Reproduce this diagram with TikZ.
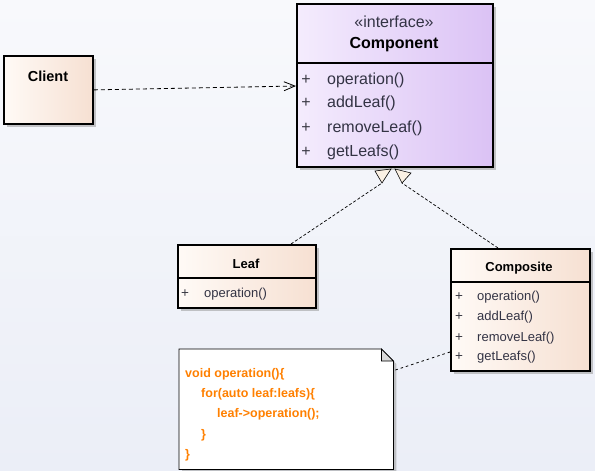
\documentclass[tikz,border=0pt]{standalone}
\usepackage{fontspec}
\setmainfont{Liberation Sans}
\usetikzlibrary{arrows.meta,shadows,calc}
\definecolor{bgtop}{HTML}{F8F9FC}
\definecolor{bgbot}{HTML}{EBEEF7}
\definecolor{peachL}{HTML}{FFFAF6}
\definecolor{peachR}{HTML}{F6E0D2}
\definecolor{lavL}{HTML}{F4ECFD}
\definecolor{lavR}{HTML}{DBC2F5}
\definecolor{methtxt}{HTML}{333344}
\definecolor{plustxt}{HTML}{3A3A44}
\definecolor{codeor}{HTML}{FF8000}
\definecolor{trifill}{HTML}{FBF1E4}
\begin{document}
\begin{tikzpicture}[x=1pt,y=-1pt,
  classbox/.style={draw=black, line width=1.8pt, anchor=north west, inner sep=0pt,
    drop shadow={shadow xshift=3pt, shadow yshift=-3pt, fill=black!40, opacity=.55}},
  peach/.style={left color=peachL, right color=peachR},
  lav/.style={left color=lavL, right color=lavR},
  divider/.style={line width=1.8pt},
  bigtitle/.style={font=\bfseries\fontsize{16}{18}\selectfont, inner sep=0pt},
  bigtext/.style={font=\fontsize{16}{18}\selectfont, inner sep=0pt, text=methtxt},
  bigmeth/.style={font=\fontsize{16}{18}\selectfont, inner sep=0pt, anchor=west, text=methtxt, text height=11.5pt, text depth=3.5pt},
  bigplus/.style={font=\fontsize{16}{18}\selectfont, inner sep=0pt, text=plustxt},
  title/.style={font=\bfseries\fontsize{13}{15}\selectfont, inner sep=0pt},
  clienttitle/.style={font=\bfseries\fontsize{14.5}{16}\selectfont, inner sep=0pt},
  meth/.style={font=\fontsize{13}{15}\selectfont, inner sep=0pt, anchor=west, text=methtxt, text height=9.5pt, text depth=3pt},
  plus/.style={font=\fontsize{13.5}{15}\selectfont, inner sep=0pt, text=plustxt},
  code/.style={font=\bfseries\fontsize{12.5}{14}\selectfont, inner sep=0pt, anchor=west, text=codeor, text height=9pt, text depth=3pt},
  depline/.style={line width=0.8pt, dash pattern=on 4pt off 3pt},
  realline/.style={line width=0.7pt, dash pattern=on 3pt off 2pt},
  noteline/.style={line width=0.8pt, dash pattern=on 2.5pt off 3pt},
  tri/.style={draw=black, line width=0.6pt, fill=trifill}
]
% background
\shade[top color=bgtop, bottom color=bgbot] (0,0) rectangle (595,471);
\useasboundingbox (0,0) rectangle (595,471);

% Client
\node[classbox, peach, minimum width=89pt, minimum height=68pt] (client) at (3,55) {};
\node[clienttitle] (clientT) at (48,76) {Client};

% Component
\node[classbox, lav, minimum width=196pt, minimum height=163pt] (comp) at (296,3) {};
\draw[divider] ($(comp.north west)+(0,60)$) -- ($(comp.north east)+(0,60)$);
\node[bigtext] (compS) at (394,22) {«interface»};
\node[bigtitle] (compT) at (394,45) {Component};
\node[bigplus] (cp1) at (306,80) {+};
\node[bigplus] (cp2) at (306,103) {+};
\node[bigplus] (cp3) at (306,128) {+};
\node[bigplus] (cp4) at (306,152) {+};
\node[bigmeth] (cm1) at (327,80) {operation()};
\node[bigmeth] (cm2) at (327,103) {addLeaf()};
\node[bigmeth] (cm3) at (327,128) {removeLeaf()};
\node[bigmeth] (cm4) at (327,152) {getLeafs()};

% Leaf
\node[classbox, peach, minimum width=138pt, minimum height=63pt] (leaf) at (177,244) {};
\draw[divider] ($(leaf.north west)+(0,34)$) -- ($(leaf.north east)+(0,34)$);
\node[title] (leafT) at (246,264) {Leaf};
\node[plus] (lp1) at (185,294) {+};
\node[meth] (lm1) at (204,294) {operation()};

% Composite
\node[classbox, peach, minimum width=139pt, minimum height=122pt] (cmp) at (450,248) {};
\draw[divider] ($(cmp.north west)+(0,34)$) -- ($(cmp.north east)+(0,34)$);
\node[title] (cmpT) at (519,268) {Composite};
\node[plus] (kp1) at (459,297) {+};
\node[plus] (kp2) at (459,317) {+};
\node[plus] (kp3) at (459,338) {+};
\node[plus] (kp4) at (459,357) {+};
\node[meth] (km1) at (477,297) {operation()};
\node[meth] (km2) at (477,317) {addLeaf()};
\node[meth] (km3) at (477,338) {removeLeaf()};
\node[meth] (km4) at (477,357) {getLeafs()};

% Note
\node[anchor=north west, minimum width=214pt, minimum height=120pt, inner sep=0pt] (note) at (179,349) {};
\fill[black!40, opacity=.55] ($(note.north west)+(3,3)$) -- ($(note.north east)+(-9,3)$) -- ($(note.north east)+(3,15)$) -- ($(note.south east)+(3,3)$) -- ($(note.south west)+(3,3)$) -- cycle;
\draw[fill=white, line width=0.8pt] (note.north west) -- ($(note.north east)+(-12,0)$) -- ($(note.north east)+(0,12)$) -- (note.south east) -- (note.south west) -- cycle;
\draw[fill=black!15, line width=0.8pt] ($(note.north east)+(-12,0)$) -- ($(note.north east)+(-12,12)$) -- ($(note.north east)+(0,12)$) -- cycle;
\node[code] (c1) at (185,374) {void operation()\{};
\node[code] (c2) at (201,394) {for(auto leaf:leafs)\{};
\node[code] (c3) at (217,414) {leaf->operation();};
\node[code] (c4) at (201,435) {\}};
\node[code] (c5) at (185,455) {\}};

% connectors
\coordinate (cin) at (296,86);
\draw[depline, -{Straight Barb[length=11pt, width=9pt, line width=0.8pt]}] (client.east) -- (cin);

\coordinate (ltip) at (382,183);
\coordinate (rtip) at (402,183);
\draw[realline] ($(leaf.north west)+(114,0)$) -- (ltip);
\draw[realline] ($(cmp.north west)+(48,0)$) -- (rtip);
\draw[tri] (375,171) -- (391,169) -- (ltip) -- cycle;
\draw[tri] (395,169) -- (411,173) -- (rtip) -- cycle;

\coordinate (nc) at ($(note.north east)+(2,21)$);
\draw[noteline] (nc) -- ($(cmp.north west)+(0,104)$);
\end{tikzpicture}
\end{document}
